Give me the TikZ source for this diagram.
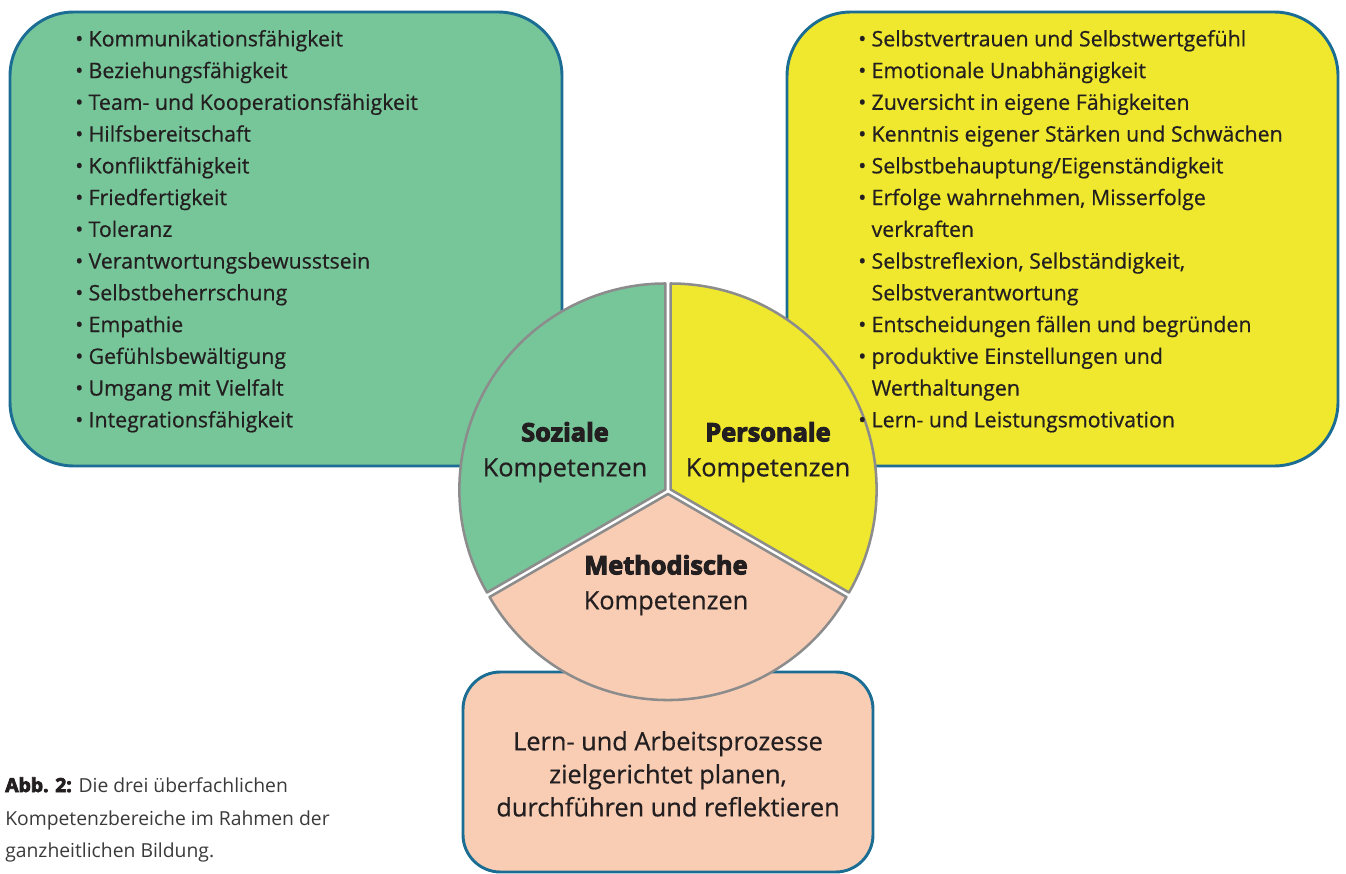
\documentclass[tikz,border=0pt]{standalone}
\usepackage{fontspec}
\setmainfont{Open Sans}
\newfontfamily\heavyfont{Open Sans}[BoldFeatures={FakeBold=4}]
\newfontfamily\medfont{Open Sans}[FakeBold=0.6]
\definecolor{boxborder}{HTML}{1C6D94}
\definecolor{greenc}{HTML}{77C69A}
\definecolor{yellowc}{HTML}{EFE82F}
\definecolor{salmonc}{HTML}{F8CDB4}
\definecolor{sectline}{HTML}{8C8C8C}
\definecolor{txt}{HTML}{231F20}
\definecolor{captxt}{HTML}{3A3A3A}
\tikzset{
  boxstyle/.style={draw=boxborder, line width=2.2pt},
  sect/.style={draw=sectline, line width=1.9pt, line join=round},
  item/.style={anchor=west, inner sep=0pt, text=txt, font=\medfont\fontsize{16}{19}\selectfont, text height=11.5pt, text depth=3.5pt},
  lbl/.style={inner sep=0pt, text=txt, font=\medfont\fontsize{19}{22}\selectfont, text height=13.5pt, text depth=4pt},
  lblb/.style={lbl, font=\heavyfont\fontsize{19}{22}\selectfont\bfseries},
  captionstyle/.style={anchor=west, inner sep=0pt, text=captxt, font=\fontsize{14.5}{17}\selectfont, text height=10.5pt, text depth=3pt}
}
\begin{document}
\begin{tikzpicture}[x=0.75pt,y=-0.75pt]
\useasboundingbox (0,0) rectangle (1346,874);
% boxes
\draw[boxstyle, fill=greenc, rounded corners=48pt] (10,12) rectangle (562,466);
\draw[boxstyle, fill=yellowc, rounded corners=48pt] (787,12) rectangle (1338,466);
\draw[boxstyle, fill=salmonc, rounded corners=28pt] (463,672) rectangle (873,872);
% pie
\coordinate (c) at (668,491);
\draw[sect, fill=greenc] ([shift={(210:3)}]c) -- +(150:206) arc[start angle=150, end angle=270, radius=206] -- cycle;
\draw[sect, fill=yellowc] ([shift={(330:3)}]c) -- +(270:206) arc[start angle=270, end angle=390, radius=206] -- cycle;
\draw[sect, fill=salmonc] ([shift={(90:3)}]c) -- +(30:206) arc[start angle=30, end angle=150, radius=206] -- cycle;
% pie labels
\node[lblb] (soz) at (565,435) {Soziale};
\node[lbl] (sozk) at (565,470) {Kompetenzen};
\node[lblb] (pers) at (768,435) {Personale};
\node[lbl] (persk) at (768,470) {Kompetenzen};
\node[lblb] (meth) at (666,568) {Methodische};
\node[lbl] (methk) at (666,603) {Kompetenzen};
% green list
\foreach \t [count=\i] in {Kommunikationsfähigkeit, Beziehungsfähigkeit, Team- und Kooperationsfähigkeit, Hilfsbereitschaft, Konfliktfähigkeit, Friedfertigkeit, Toleranz, Verantwortungsbewusstsein, Selbstbeherrschung, Empathie, Gefühlsbewältigung, Umgang mit Vielfalt, Integrationsfähigkeit}
  \node[item] (g\i) at (75,{41+31.75*(\i-1)}) {•\hspace{0.25em}\t};
% yellow list
\foreach \t [count=\i] in {•\hspace{0.25em}Selbstvertrauen und Selbstwertgefühl, •\hspace{0.25em}Emotionale Unabhängigkeit, •\hspace{0.25em}Zuversicht in eigene Fähigkeiten, •\hspace{0.25em}Kenntnis eigener Stärken und Schwächen, •\hspace{0.25em}Selbstbehauptung/Eigenständigkeit, •\hspace{0.25em}Erfolge wahrnehmen{,} Misserfolge, \phantom{•\hspace{0.25em}}verkraften, •\hspace{0.25em}Selbstreflexion{,} Selbständigkeit{,}, \phantom{•\hspace{0.25em}}Selbstverantwortung, •\hspace{0.25em}Entscheidungen fällen und begründen, •\hspace{0.25em}produktive Einstellungen und, \phantom{•\hspace{0.25em}}Werthaltungen, •\hspace{0.25em}Lern- und Leistungsmotivation}
  \node[item] (y\i) at (858,{41+31.75*(\i-1)}) {\t};
% bottom box text
\node[lbl] (b1) at (668,744) {Lern- und Arbeitsprozesse};
\node[lbl] (b2) at (668,777) {zielgerichtet planen,};
\node[lbl] (b3) at (668,810) {durchführen und reflektieren};
% caption
\node[captionstyle] (c1) at (5,787) {{\heavyfont\bfseries\color{txt}Abb. 2:} Die drei überfachlichen};
\node[captionstyle] (c2) at (5,820) {Kompetenzbereiche im Rahmen der};
\node[captionstyle] (c3) at (5,852) {ganzheitlichen Bildung.};
\end{tikzpicture}
\end{document}
